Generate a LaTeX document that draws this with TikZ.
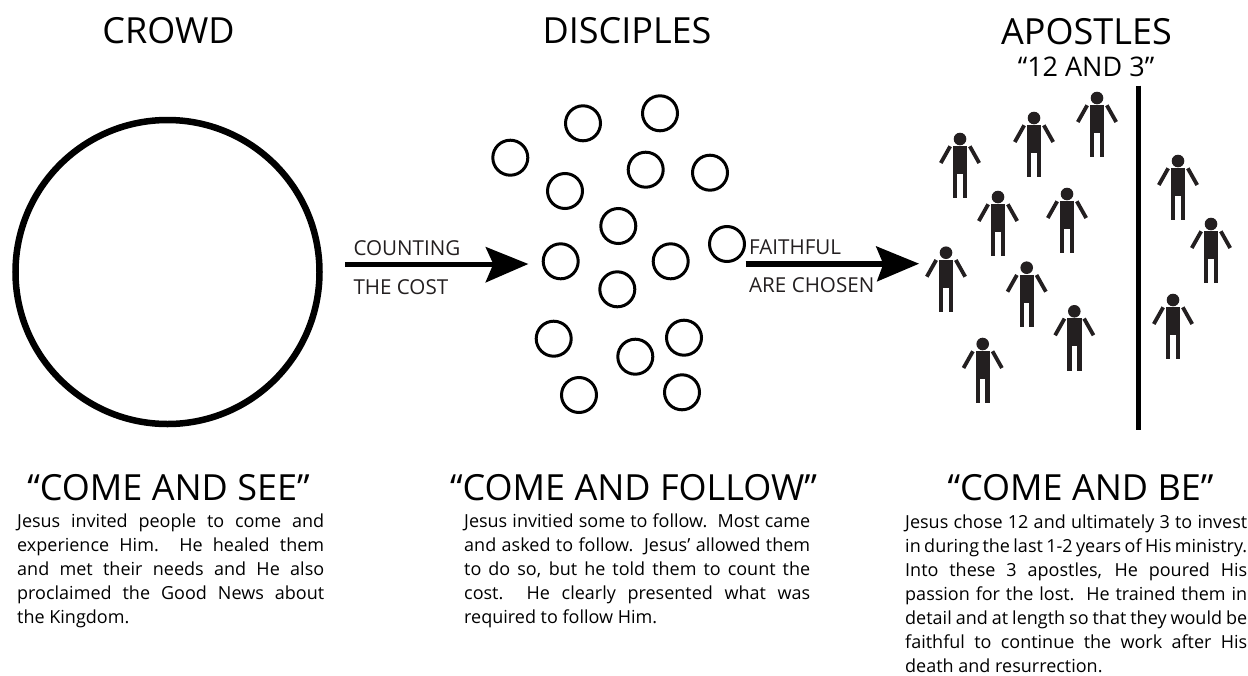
\documentclass[tikz,border=0pt]{standalone}
\usepackage{fontspec}
\setmainfont{Open Sans}
\definecolor{ink}{HTML}{231F20}
\tikzset{
  x=1pt,y=-1pt,
  ring/.style={circle,draw=black,line width=3pt,minimum size=35pt,inner sep=0pt},
  big/.style={circle,draw=black,line width=6.5pt,minimum size=304pt,inner sep=0pt},
  title/.style={font=\fontsize{36}{36}\selectfont,text=black,anchor=base,inner sep=0pt},
  motto/.style={font=\fontsize{36}{36}\selectfont,text=black,anchor=base,inner sep=0pt},
  tag/.style={font=\fontsize{20.6}{20.6}\selectfont,text=ink,anchor=base west,inner sep=0pt},
  para/.style={font=\fontsize{18}{24}\selectfont,text=black,anchor=north west,inner sep=0pt,align=justify},
  person/.pic={
    \fill[ink] (0,0) circle (6.3);
    \fill[ink] (-7.2,7) rectangle (7.2,35);
    \fill[ink] (-7.2,34) rectangle (-2.7,59.3);
    \fill[ink] (2.7,34) rectangle (7.2,59.3);
    \draw[ink,line width=3.8pt] (-9.8,7.3) -- (-19.2,24);
    \draw[ink,line width=3.8pt] (9.8,7.3) -- (19.2,24);
  }
}
\begin{document}
\begin{tikzpicture}
\useasboundingbox (0,0) rectangle (1248,675);
\node[big] (crowd) at (167.5,272) {};
\foreach \n/\a/\b in {1/510.3/157.7,2/583/123.3,3/660/113.3,4/645.7/169.7,5/710/172.7,6/565/191,7/618.3/226,8/560.7/261.3,9/670.7/261.3,10/727/244,11/617.3/289.3,12/553.7/338.7,13/684/337.7,14/635.3/356.7,15/579/395,16/682/392.3}
  \node[ring] (d\n) at (\a,\b) {};
\foreach \n/\a/\b in {1/960/139,2/1034/118,3/1097/98,4/998/197,5/1067/194,6/946/252.7,7/1026.7/267.7,8/1178/161,9/1211/224,10/1173/300,11/1074.3/311.3,12/982.7/344}
  \pic at (\a,\b) {person};
\coordinate (barT) at (1138.3,85.7);
\coordinate (barB) at (1138.3,430);
\draw[line width=5.3pt] (barT) -- (barB);
\coordinate (a1s) at (345,264.3); \coordinate (a1t) at (528.3,264);
\coordinate (a2s) at (745.7,264); \coordinate (a2t) at (919,263.7);
\draw[line width=5.5pt] (a1s) -- (500,264.3);
\fill (a1t) -- (485.3,246.7) -- (493.3,264) -- (485.3,282.7) -- cycle;
\draw[line width=5.5pt] (a2s) -- (890,264);
\fill (a2t) -- (875.7,246) -- (883.3,264) -- (876.7,281.7) -- cycle;
\node[title] (t1) at (168.5,43.5) {CROWD};
\node[title] (t2) at (627,43.5) {DISCIPLES};
\node[title] (t3) at (1086.5,44) {APOSTLES};
\node[font=\fontsize{27}{27}\selectfont,text=black,anchor=base,inner sep=0pt] (t3b) at (1086,76) {“12 AND 3”};
\node[tag] (c1) at (353.3,255.7) {COUNTING};
\node[tag] (c2) at (353.3,294) {THE COST};
\node[tag] (f1) at (749,254) {FAITHFUL};
\node[tag] (f2) at (749,292.7) {ARE CHOSEN};
\node[motto] (m1) at (168.5,500) {“COME AND SEE”};
\node[motto] (m2) at (633.5,500) {“COME AND FOLLOW”};
\node[motto] (m3) at (1080.5,500) {“COME AND BE”};
\node[para,text width=307pt] (p1) at (17,513.3) {Jesus invited people to come and\linebreak experience Him.\ \ He healed them\linebreak and met their needs and He also\linebreak proclaimed the Good News about\linebreak the Kingdom.};
\node[para,text width=346pt] (p2) at (464,513.3) {Jesus invitied some to follow.\ \ Most came\linebreak and asked to follow.\ \ Jesus' allowed them\linebreak to do so, but he told them to count the\linebreak cost.\ \ He clearly presented what was\linebreak required to follow Him.};
\node[para,text width=342pt] (p3) at (905,514.3) {Jesus chose 12 and ultimately 3 to invest\linebreak in during the last 1-2 years of His ministry.\linebreak Into these 3 apostles, He poured His\linebreak passion for the lost.\ \ He trained them in\linebreak detail and at length so that they would be\linebreak faithful to continue the work after His\linebreak death and resurrection.};
\end{tikzpicture}
\end{document}
